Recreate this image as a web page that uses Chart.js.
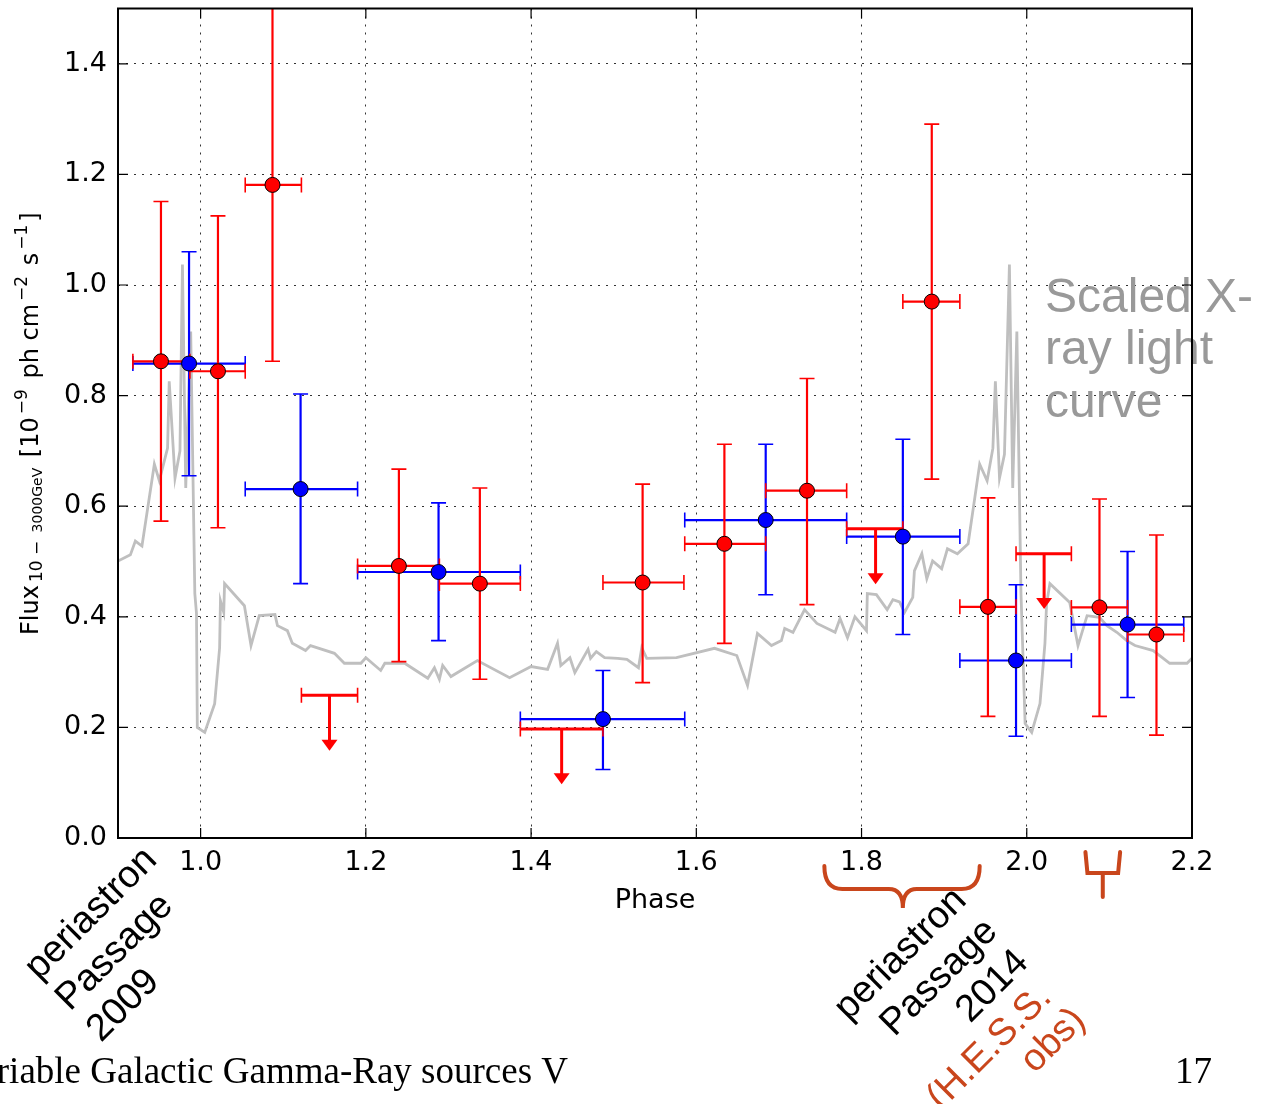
<!DOCTYPE html>
<html>
<head>
    <title>Phase-folded flux</title>
    <script src="https://cdn.jsdelivr.net/npm/chart.js"></script>
    <style>
        body { margin: 0; background: #fff; }
        #wrap { width: 1272px; height: 1104px; position: relative; }
    </style>
</head>
<body>
    <div id="wrap"><canvas id="fluxChart"></canvas></div>
    <script>
        // red points (flux measurements)
        const redX   = [0.952, 1.021, 1.087, 1.240, 1.338, 1.535, 1.634, 1.734, 1.885, 1.953, 2.088, 2.157];
        const redY   = [0.862, 0.844, 1.181, 0.492, 0.460, 0.462, 0.532, 0.628, 0.970, 0.418, 0.417, 0.368];
        const redXLo = [0.918, 0.987, 1.054, 1.190, 1.289, 1.487, 1.586, 1.684, 1.850, 1.919, 2.054, 2.122];
        const redXHi = [0.987, 1.054, 1.122, 1.289, 1.387, 1.585, 1.684, 1.782, 1.919, 1.987, 2.122, 2.190];
        const redYLo = [0.573, 0.561, 0.862, 0.319, 0.287, 0.281, 0.352, 0.422, 0.649, 0.220, 0.220, 0.186];
        const redYHi = [1.151, 1.125, 1.600, 0.667, 0.633, 0.640, 0.712, 0.831, 1.291, 0.615, 0.613, 0.548];

        // red upper limits
        const ulX   = [1.156, 1.437, 1.817, 2.021];
        const ulY   = [0.258, 0.197, 0.559, 0.514];
        const ulXLo = [1.122, 1.387, 1.782, 1.987];
        const ulXHi = [1.190, 1.487, 1.850, 2.054];
        const ulLen = 0.1;

        // blue points
        const blueX   = [0.986, 1.121, 1.288, 1.487, 1.684, 1.850, 1.987, 2.122];
        const blueY   = [0.858, 0.631, 0.481, 0.215, 0.575, 0.545, 0.321, 0.386];
        const blueXLo = [0.918, 1.054, 1.190, 1.387, 1.586, 1.782, 1.919, 2.054];
        const blueXHi = [1.054, 1.190, 1.387, 1.586, 1.782, 1.919, 2.054, 2.190];
        const blueYLo = [0.655, 0.460, 0.357, 0.124, 0.440, 0.368, 0.184, 0.254];
        const blueYHi = [1.060, 0.803, 0.606, 0.303, 0.712, 0.721, 0.458, 0.518];

        // scaled X-ray light curve (grey)
        const xrayPhase = [0.900, 0.915, 0.921, 0.929, 0.944, 0.950, 0.960, 0.962, 0.969, 0.975, 0.978, 0.982, 0.988, 0.993, 0.995, 0.996,
            1.005, 1.017, 1.023, 1.024, 1.028, 1.029, 1.053, 1.061, 1.071, 1.090, 1.093, 1.105, 1.111, 1.127, 1.133, 1.162, 1.174, 1.194,
            1.200, 1.218, 1.223, 1.247, 1.275, 1.283, 1.289, 1.293, 1.303, 1.335, 1.374, 1.400, 1.420, 1.432, 1.436, 1.447, 1.453, 1.469,
            1.472, 1.479, 1.489, 1.505, 1.516, 1.530, 1.534, 1.540, 1.576, 1.622, 1.649, 1.662, 1.674, 1.691, 1.703, 1.707, 1.717, 1.731,
            1.746, 1.768, 1.774, 1.783, 1.792, 1.806, 1.807, 1.818, 1.831, 1.838, 1.846, 1.852, 1.862, 1.864, 1.873, 1.879, 1.886, 1.897,
            1.904, 1.916, 1.929, 1.943, 1.952, 1.959, 1.962, 1.967, 1.973, 1.979, 1.983, 1.988, 1.993, 1.998, 2.006, 2.016, 2.022, 2.024,
            2.028, 2.052, 2.062, 2.073, 2.088, 2.097, 2.109, 2.121, 2.131, 2.153, 2.173, 2.194, 2.200];
        const xrayFlux = [0.501, 0.512, 0.537, 0.528, 0.676, 0.646, 0.705, 0.826, 0.651, 0.700, 1.037, 0.633, 0.916, 0.442, 0.406, 0.200,
            0.191, 0.243, 0.344, 0.429, 0.408, 0.460, 0.420, 0.348, 0.402, 0.404, 0.384, 0.375, 0.352, 0.339, 0.348, 0.334, 0.316, 0.316,
            0.326, 0.303, 0.316, 0.316, 0.289, 0.308, 0.287, 0.312, 0.292, 0.321, 0.290, 0.310, 0.305, 0.352, 0.312, 0.326, 0.299, 0.341,
            0.325, 0.337, 0.326, 0.325, 0.323, 0.308, 0.344, 0.325, 0.326, 0.343, 0.330, 0.276, 0.370, 0.348, 0.357, 0.379, 0.372, 0.413,
            0.388, 0.372, 0.397, 0.362, 0.400, 0.375, 0.442, 0.440, 0.413, 0.431, 0.427, 0.408, 0.435, 0.483, 0.514, 0.469, 0.501, 0.487,
            0.523, 0.514, 0.532, 0.676, 0.646, 0.705, 0.826, 0.651, 0.694, 1.037, 0.633, 0.916, 0.442, 0.207, 0.191, 0.243, 0.352, 0.424,
            0.460, 0.426, 0.348, 0.402, 0.399, 0.384, 0.372, 0.357, 0.348, 0.339, 0.316, 0.316, 0.325];

        const xTicks = [1.0, 1.2, 1.4, 1.6, 1.8, 2.0, 2.2];
        const yTicks = [0.0, 0.2, 0.4, 0.6, 0.8, 1.0, 1.2, 1.4];

        const RED = '#ff0000', BLUE = '#0000ff', ORANGE = '#c9461c';
        const tickFont = { family: 'DejaVu Sans', size: 27 };

        function pts(xs, ys) { return xs.map((x, i) => ({ x: x, y: ys[i] })); }

        function drawErrBars(chart, xs, ys, xlo, xhi, ylo, yhi, color) {
            const ctx = chart.ctx, sx = chart.scales.x, sy = chart.scales.y;
            ctx.strokeStyle = color;
            xs.forEach((v, i) => {
                const px = sx.getPixelForValue(v), py = sy.getPixelForValue(ys[i]);
                const x0 = sx.getPixelForValue(xlo[i]), x1 = sx.getPixelForValue(xhi[i]);
                const y0 = sy.getPixelForValue(ylo[i]), y1 = sy.getPixelForValue(yhi[i]);
                ctx.lineWidth = 2.2;
                ctx.beginPath();
                ctx.moveTo(px, y0); ctx.lineTo(px, y1);
                ctx.moveTo(x0, py); ctx.lineTo(x1, py);
                ctx.stroke();
                //caps
                ctx.lineWidth = 1.6;
                ctx.beginPath();
                ctx.moveTo(px - 7.5, y0); ctx.lineTo(px + 7.5, y0);
                ctx.moveTo(px - 7.5, y1); ctx.lineTo(px + 7.5, y1);
                ctx.moveTo(x0, py - 7.5); ctx.lineTo(x0, py + 7.5);
                ctx.moveTo(x1, py - 7.5); ctx.lineTo(x1, py + 7.5);
                ctx.stroke();
            });
        }

        function drawLimits(chart) {
            const ctx = chart.ctx, sx = chart.scales.x, sy = chart.scales.y;
            ctx.strokeStyle = RED; ctx.fillStyle = RED;
            ulX.forEach((v, i) => {
                const px = sx.getPixelForValue(v), py = sy.getPixelForValue(ulY[i]);
                const x0 = sx.getPixelForValue(ulXLo[i]), x1 = sx.getPixelForValue(ulXHi[i]);
                const tip = sy.getPixelForValue(ulY[i] - ulLen);
                ctx.lineWidth = 3;
                ctx.beginPath();
                ctx.moveTo(x0, py); ctx.lineTo(x1, py);
                ctx.moveTo(px, py); ctx.lineTo(px, tip - 10);
                ctx.stroke();
                ctx.lineWidth = 1.6;
                ctx.beginPath();
                ctx.moveTo(x0, py - 7.5); ctx.lineTo(x0, py + 7.5);
                ctx.moveTo(x1, py - 7.5); ctx.lineTo(x1, py + 7.5);
                ctx.stroke();
                ctx.beginPath();
                ctx.moveTo(px - 8, tip - 11); ctx.lineTo(px + 8, tip - 11); ctx.lineTo(px, tip);
                ctx.closePath(); ctx.fill();
            });
        }

        const errorBarPlugin = {
            id: 'errorBars',
            afterDatasetDraw(chart, args) {
                if (args.index !== 0) return;
                const a = chart.chartArea, ctx = chart.ctx;
                ctx.save();
                ctx.beginPath(); ctx.rect(a.left, a.top, a.right - a.left, a.bottom - a.top); ctx.clip();
                drawErrBars(chart, blueX, blueY, blueXLo, blueXHi, blueYLo, blueYHi, BLUE);
                drawErrBars(chart, redX, redY, redXLo, redXHi, redYLo, redYHi, RED);
                drawLimits(chart);
                ctx.restore();
            }
        };

        function rotLines(ctx, lines, x, y, step, align, color) {
            lines.forEach((t, i) => {
                ctx.save();
                ctx.translate(x + i * step, y + i * step);
                ctx.rotate(-Math.PI / 4);
                ctx.textAlign = align;
                ctx.textBaseline = 'alphabetic';
                ctx.fillStyle = color;
                ctx.fillText(t, 0, 0);
                ctx.restore();
            });
        }

        const textPlugin = {
            id: 'texts',
            afterDatasetsDraw(chart) {
                const ctx = chart.ctx, sx = chart.scales.x, a = chart.chartArea;
                ctx.save();
                // grey label for the X-ray curve
                ctx.font = '48px "Liberation Sans"';
                ctx.fillStyle = '#999999';
                ctx.textAlign = 'left';
                ctx.fillText('Scaled X-', 1045, 312);
                ctx.fillText('ray light', 1045, 364);
                ctx.fillText('curve', 1045, 417);

                // x axis title
                ctx.font = '27px "DejaVu Sans"';
                ctx.fillStyle = '#000';
                ctx.textAlign = 'center';
                ctx.textBaseline = 'middle';
                ctx.fillText('Phase', (a.left + a.right) / 2, 901);

                // y axis title, rotated
                ctx.save();
                ctx.translate(38, 635);
                ctx.rotate(-Math.PI / 2);
                ctx.textAlign = 'left';
                ctx.textBaseline = 'alphabetic';
                const runs = [
                    { t: 'Flux', s: 24, dy: 0 },
                    { t: '10 \u2212 ', s: 17, dy: 4 },
                    { t: '3000GeV', s: 14, dy: 4 },
                    { t: ' [10', s: 24, dy: 0 },
                    { t: '\u22129', s: 17, dy: -11 },
                    { t: ' ph cm', s: 24, dy: 0 },
                    { t: '\u22122', s: 17, dy: -11 },
                    { t: ' s', s: 24, dy: 0 },
                    { t: '\u22121', s: 17, dy: -11 },
                    { t: ']', s: 24, dy: 0 }
                ];
                let cx = 0;
                runs.forEach(r => {
                    ctx.font = r.s + 'px "DejaVu Sans"';
                    ctx.fillText(r.t, cx, r.dy);
                    cx += ctx.measureText(r.t).width + 3;
                });
                ctx.restore();

                // periastron annotations
                ctx.font = '38px "Liberation Sans"';
                rotLines(ctx, ['periastron', 'Passage', '2009'], 39, 981, 31, 'left', '#000');
                rotLines(ctx, ['periastron', 'Passage', '2014'], 968, 902, 31, 'right', '#000');
                rotLines(ctx, ['(H.E.S.S.'], 1053, 999, 0, 'right', ORANGE);
                rotLines(ctx, ['obs)'], 1087, 1022, 0, 'right', ORANGE);

                // braces under the axis
                ctx.strokeStyle = ORANGE;
                ctx.lineWidth = 4;
                ctx.lineCap = 'round';
                const b0 = sx.getPixelForValue(1.755), b1 = sx.getPixelForValue(1.943), bm = sx.getPixelForValue(1.850);
                ctx.beginPath();
                ctx.moveTo(b0, 866);
                ctx.quadraticCurveTo(b0, 889, b0 + 18, 889);
                ctx.lineTo(bm - 14, 889);
                ctx.quadraticCurveTo(bm, 889, bm, 908);
                ctx.quadraticCurveTo(bm, 889, bm + 14, 889);
                ctx.lineTo(b1 - 18, 889);
                ctx.quadraticCurveTo(b1, 889, b1, 866);
                ctx.stroke();
                const c0 = sx.getPixelForValue(2.071), c1 = sx.getPixelForValue(2.113), cm = sx.getPixelForValue(2.092);
                ctx.beginPath();
                ctx.moveTo(c0, 852); ctx.lineTo(c0 + 2, 873); ctx.lineTo(c1 - 2, 873); ctx.lineTo(c1, 852);
                ctx.moveTo(cm, 873); ctx.lineTo(cm, 897);
                ctx.stroke();

                // slide footer
                ctx.font = '37px "Liberation Serif"';
                ctx.fillStyle = '#000';
                ctx.textBaseline = 'alphabetic';
                ctx.textAlign = 'right';
                ctx.fillText('Variable Galactic Gamma-Ray sources V', 568, 1083);
                ctx.fillText('17', 1212, 1083);
                ctx.restore();
            },
            afterDraw(chart) {
                // frame and inward ticks
                const ctx = chart.ctx, a = chart.chartArea, sx = chart.scales.x, sy = chart.scales.y;
                ctx.save();
                ctx.strokeStyle = '#000';
                ctx.lineWidth = 1.2;
                ctx.beginPath();
                xTicks.forEach(v => {
                    const p = sx.getPixelForValue(v);
                    ctx.moveTo(p, a.bottom); ctx.lineTo(p, a.bottom - 10);
                    ctx.moveTo(p, a.top); ctx.lineTo(p, a.top + 10);
                });
                yTicks.forEach(v => {
                    const p = sy.getPixelForValue(v);
                    ctx.moveTo(a.left, p); ctx.lineTo(a.left + 10, p);
                    ctx.moveTo(a.right, p); ctx.lineTo(a.right - 10, p);
                });
                ctx.stroke();
                ctx.lineWidth = 2;
                ctx.strokeRect(a.left, a.top, a.right - a.left, a.bottom - a.top);
                ctx.restore();
            }
        };

        const ctx = document.getElementById('fluxChart').getContext('2d');
        new Chart(ctx, {
            data: {
                datasets: [
                    {
                        type: 'line', label: 'X-ray', data: pts(xrayPhase, xrayFlux),
                        borderColor: '#bfbfbf', borderWidth: 2.8, pointRadius: 0, tension: 0, order: 10
                    },
                    {
                        type: 'scatter', label: 'blue', data: pts(blueX, blueY),
                        backgroundColor: BLUE, borderColor: '#000', borderWidth: 1, pointRadius: 7.5, order: 2
                    },
                    {
                        type: 'scatter', label: 'red', data: pts(redX, redY),
                        backgroundColor: RED, borderColor: '#000', borderWidth: 1, pointRadius: 7.5, order: 1
                    }
                ]
            },
            options: {
                responsive: true,
                maintainAspectRatio: false,
                animation: false,
                layout: { padding: { top: 7, right: 80, left: 0, bottom: 0 } },
                plugins: { legend: { display: false }, tooltip: { enabled: false } },
                scales: {
                    x: {
                        type: 'linear', min: 0.9, max: 2.2,
                        afterBuildTicks: s => { s.ticks = xTicks.map(v => ({ value: v })); },
                        afterFit: s => { s.height = 266; s.paddingLeft = 0; s.paddingRight = 0; },
                        ticks: { font: tickFont, color: '#000', padding: 9, maxRotation: 0, autoSkip: false,
                                 callback: v => v.toFixed(1) },
                        grid: { color: 'rgba(0,0,0,0.8)', lineWidth: 1, drawTicks: false },
                        border: { display: false, dash: [2, 6] }
                    },
                    y: {
                        type: 'linear', min: 0, max: 1.5,
                        afterBuildTicks: s => { s.ticks = yTicks.map(v => ({ value: v })); },
                        afterFit: s => { s.width = 118; s.paddingTop = 0; s.paddingBottom = 0; },
                        ticks: { font: tickFont, color: '#000', padding: 11, autoSkip: false,
                                 callback: v => v.toFixed(1) },
                        grid: { color: 'rgba(0,0,0,0.8)', lineWidth: 1, drawTicks: false },
                        border: { display: false, dash: [2, 6] }
                    }
                }
            },
            plugins: [errorBarPlugin, textPlugin]
        });
    </script>
</body>
</html>
